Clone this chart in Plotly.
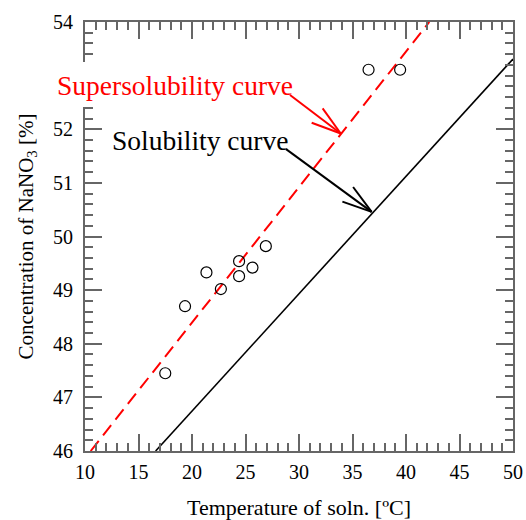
import math
import plotly.graph_objects as go

# ---- data ----
exp_T = [17.5, 19.35, 21.35, 22.7, 24.4, 24.4, 25.65, 26.9, 36.5, 39.45]
exp_C = [47.45, 48.70, 49.33, 49.02, 49.54, 49.26, 49.42, 49.82, 53.11, 53.11]

sol_T = [16.6, 50.0]
sol_C = [46.0, 53.31]

super_T = [10.53, 42.18]
super_C = [46.0, 54.0]

x_range = [10, 50]
y_range = [46, 54]
x_ticks = [10, 15, 20, 25, 30, 35, 40, 45, 50]
# the 53 label is hidden behind the "Supersolubility curve" text in the original
y_ticks = [46, 47, 48, 49, 50, 51, 52, 54]

# annotations: label text, label position (text start), arrow tail, arrow tip, colour
labels = ["Supersolubility curve", "Solubility curve"]
label_T = [7.48, 12.62]
label_C = [52.81, 51.79]
tail_T = [29.16, 28.79]
tail_C = [52.64, 51.63]
tip_T = [33.90, 36.79]
tip_C = [51.92, 50.46]
label_colors = ["red", "black"]

# ---- layout geometry ----
W, H = 526, 520
ML, MR, MT, MB = 85, 13, 22, 69
pw, ph = W - ML - MR, H - MT - MB
sx = pw / (x_range[1] - x_range[0])
sy = ph / (y_range[1] - y_range[0])

FONT = "Liberation Serif, Times New Roman, serif"
TXT_PAD = 3

fig = go.Figure()

fig.add_trace(go.Scatter(x=super_T, y=super_C, mode="lines",
                         line=dict(color="red", width=2, dash="13px,7px"),
                         showlegend=False, hoverinfo="skip"))
fig.add_trace(go.Scatter(x=sol_T, y=sol_C, mode="lines",
                         line=dict(color="black", width=1.6),
                         showlegend=False, hoverinfo="skip"))
fig.add_trace(go.Scatter(x=exp_T, y=exp_C, mode="markers",
                         marker=dict(symbol="circle-open", size=11,
                                     color="black", line=dict(width=1.2)),
                         showlegend=False))


def to_paper_x(v):
    return (v - x_range[0]) / (x_range[1] - x_range[0])


def to_paper_y(v):
    return (v - y_range[0]) / (y_range[1] - y_range[0])


# white patch behind the supersolubility label (interrupts the left axis line there)
shapes = [dict(type="rect", xref="paper", yref="paper", layer="above",
               x0=-45 / pw, x1=45 / pw,
               y0=1 - 85 / ph, y1=1 - 40 / ph,
               fillcolor="white", line=dict(width=0))]
annotations = []
for i in range(len(labels)):
    c = label_colors[i]
    ax_paper = to_paper_x(label_T[i]) - TXT_PAD / pw
    annotations.append(dict(x=ax_paper, y=to_paper_y(label_C[i]),
                            xref="paper", yref="paper",
                            text=labels[i], showarrow=False,
                            xanchor="left", yanchor="middle",
                            font=dict(family=FONT, size=27.5, color=c)))
    shapes.append(dict(type="line", xref="x", yref="y", layer="above",
                       x0=tail_T[i], y0=tail_C[i], x1=tip_T[i], y1=tip_C[i],
                       line=dict(color=c, width=2)))
    # arrow barbs (open V head) computed in pixel space
    dxp = (tail_T[i] - tip_T[i]) * sx
    dyp = (tail_C[i] - tip_C[i]) * sy
    ang = math.atan2(dyp, dxp)
    for s in (-1, 1):
        a = ang + s * math.radians(17)
        L = 31
        bx = tip_T[i] + L * math.cos(a) / sx
        by = tip_C[i] + L * math.sin(a) / sy
        shapes.append(dict(type="line", xref="x", yref="y", layer="above",
                           x0=tip_T[i], y0=tip_C[i], x1=bx, y1=by,
                           line=dict(color=c, width=2)))

axis_common = dict(
    showgrid=False, zeroline=False, automargin=False,
    showline=True, linecolor="#666", linewidth=2,
    ticks="inside", ticklen=17, tickwidth=2, tickcolor="#666",
    mirror="allticks",
    tickfont=dict(family=FONT, size=20, color="black"),
)

fig.update_layout(
    width=W, height=H,
    margin=dict(l=ML, r=MR, t=MT, b=MB, autoexpand=False),
    plot_bgcolor="white", paper_bgcolor="white",
    shapes=shapes, annotations=annotations,
    xaxis=dict(range=x_range, tickvals=x_ticks,
               minor=dict(dtick=1, ticks="inside", ticklen=8, tickwidth=2,
                          tickcolor="#666"),
               ticklabelstandoff=2,
               title=dict(text="Temperature of soln. [ºC]", standoff=22,
                          font=dict(family=FONT, size=22, color="black")),
               **axis_common),
    yaxis=dict(range=y_range, tickvals=y_ticks,
               minor=dict(dtick=0.2, ticks="inside", ticklen=8, tickwidth=2,
                          tickcolor="#666"),
               ticklabelstandoff=6,
               title=dict(text="Concentration of NaNO<sub>3</sub> [%]", standoff=14,
                          font=dict(family=FONT, size=21, color="black")),
               **axis_common),
)

fig.write_html("out.html")
